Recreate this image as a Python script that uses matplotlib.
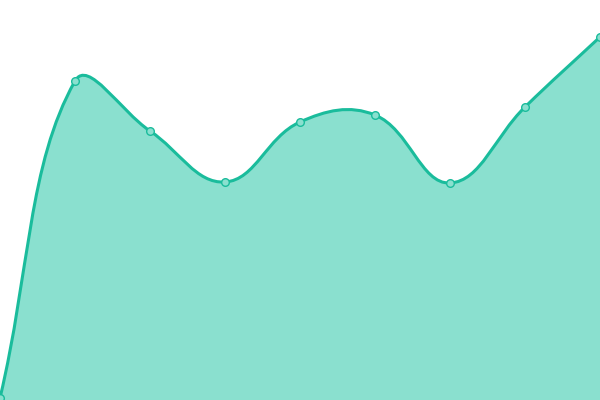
import numpy as np
import matplotlib
matplotlib.use("Agg")
import matplotlib.pyplot as plt
from matplotlib.path import Path
from matplotlib.patches import PathPatch

# series values, one per category slot
categories = ["A", "B", "C", "D", "E", "F", "G", "H", "I"]
values = [2, 319, 269, 218, 278, 285, 217, 293, 363]

Y_MAX = 400
LINE_COLOR = "#1abc9c"
AREA_COLOR = "#8ae0cf"

W, H = 600, 400


def spline_path(xs, ys, tension=0.4):
    """Bezier path; control points scaled by neighbour distances (end points use themselves as neighbour)."""
    pts = [np.array(p, dtype=float) for p in zip(xs, ys)]
    n = len(pts)
    cp_prev, cp_next = [], []
    for i in range(n):
        cur = pts[i]
        prev = pts[i - 1] if i > 0 else cur
        nxt = pts[i + 1] if i < n - 1 else cur
        d01 = np.hypot(*(cur - prev))
        d12 = np.hypot(*(nxt - cur))
        tot = d01 + d12
        s01 = d01 / tot if tot else 0
        s12 = d12 / tot if tot else 0
        cp_prev.append(cur - tension * s01 * (nxt - prev))
        cp_next.append(cur + tension * s12 * (nxt - prev))
    verts = [tuple(pts[0])]
    codes = [Path.MOVETO]
    for i in range(1, n):
        verts += [tuple(cp_next[i - 1]), tuple(cp_prev[i]), tuple(pts[i])]
        codes += [Path.CURVE4] * 3
    return verts, codes


fig = plt.figure(figsize=(6, 4), dpi=100)
ax = fig.add_axes([0, 0, 1, 1])
ax.set_xlim(0, W)
ax.set_ylim(0, H)
ax.axis("off")

# work in pixel units so the spline matches screen geometry
idx = np.arange(len(categories))
px = idx * W / (len(categories) - 1)
py = np.array(values) * H / Y_MAX

verts, codes = spline_path(px, py)
area_verts = verts + [(px[-1], 0), (px[0], 0), verts[0]]
area_codes = codes + [Path.LINETO, Path.LINETO, Path.CLOSEPOLY]
ax.add_patch(PathPatch(Path(area_verts, area_codes), facecolor=AREA_COLOR,
                       edgecolor="none", zorder=1))
ax.add_patch(PathPatch(Path(verts, codes), facecolor="none",
                       edgecolor=LINE_COLOR, lw=2.2, zorder=2,
                       capstyle="round", joinstyle="round"))
ax.plot(px, py, "o", ms=5.5, mfc=AREA_COLOR, mec=LINE_COLOR, mew=1,
        zorder=3, clip_on=False)

fig.savefig("out.png", dpi=100)
